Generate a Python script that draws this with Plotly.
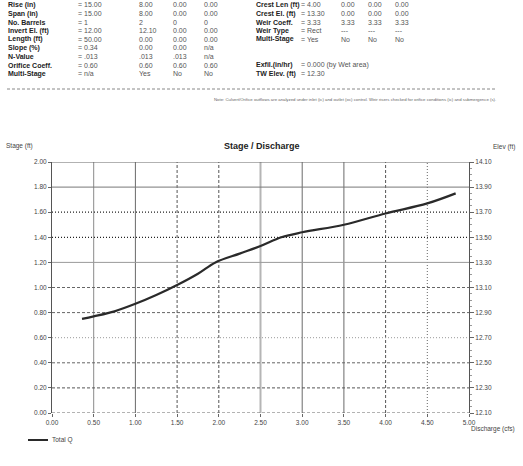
import plotly.graph_objects as go

# ---------------- data ----------------
discharge = [0.36, 0.50, 0.75, 1.00, 1.25, 1.50, 1.75, 1.96, 2.25, 2.50, 2.75, 3.00, 3.50, 4.00, 4.50, 4.84]
stage = [0.75, 0.77, 0.81, 0.87, 0.94, 1.02, 1.11, 1.20, 1.27, 1.33, 1.40, 1.44, 1.50, 1.59, 1.67, 1.75]
base_elev = 12.10
x_ticks = [0.0, 0.5, 1.0, 1.5, 2.0, 2.5, 3.0, 3.5, 4.0, 4.5, 5.0]
y_ticks = [0.0, 0.2, 0.4, 0.6, 0.8, 1.0, 1.2, 1.4, 1.6, 1.8, 2.0]
elev_ticks = [12.10, 12.30, 12.50, 12.70, 12.90, 13.10, 13.30, 13.50, 13.70, 13.90, 14.10]
series_name = "Total Q"

left_labels = ["Rise (in)", "Span (in)", "No. Barrels", "Invert El. (ft)", "Length (ft)",
               "Slope (%)", "N-Value", "Orifice Coeff.", "Multi-Stage"]
left_values = [["= 15.00", "8.00", "0.00", "0.00"],
               ["= 15.00", "8.00", "0.00", "0.00"],
               ["= 1", "2", "0", "0"],
               ["= 12.00", "12.10", "0.00", "0.00"],
               ["= 50.00", "0.00", "0.00", "0.00"],
               ["= 0.34", "0.00", "0.00", "n/a"],
               ["= .013", ".013", ".013", "n/a"],
               ["= 0.60", "0.60", "0.60", "0.60"],
               ["= n/a", "Yes", "No", "No"]]
right_labels = ["Crest Len (ft)", "Crest El. (ft)", "Weir Coeff.", "Weir Type", "Multi-Stage",
                "", "", "Exfil.(in/hr)", "TW Elev. (ft)"]
right_values = [["= 4.00", "0.00", "0.00", "0.00"],
                ["= 13.30", "0.00", "0.00", "0.00"],
                ["= 3.33", "3.33", "3.33", "3.33"],
                ["= Rect", "---", "---", "---"],
                ["= Yes", "No", "No", "No"],
                ["", "", "", ""],
                ["", "", "", ""],
                ["= 0.000 (by Wet area)", "", "", ""],
                ["= 12.30", "", "", ""]]
note_text = ("Note: Culvert/Orifice outflows are analyzed under inlet (ic) and outlet (oc) control. "
             "Weir risers checked for orifice conditions (ic) and submergence (s).")

# ---------------- geometry helpers ----------------
W, H = 523, 466
PL, PR, PT, PB = 52, 469, 162, 413

def fx(px):
    return (px - PL) / (PR - PL)

def fy(py):
    return (PB - py) / (PB - PT)

FONT = "Liberation Sans, Arial, sans-serif"
LINE_COLOR = "#2a2a2a"
fig = go.Figure()

fig.add_trace(go.Scatter(x=discharge, y=stage, mode="lines", name=series_name, showlegend=False,
                         line=dict(color=LINE_COLOR, width=2.2), line_shape="spline"))
fig.add_trace(go.Scatter(x=discharge, y=[s + base_elev for s in stage], yaxis="y2",
                         mode="lines", line=dict(width=0, color="rgba(0,0,0,0)"),
                         showlegend=False, hoverinfo="skip"))

DASH = "3px,2px"
DOT = "1px,2px"
shapes = []
v_styles = {0.5: ("solid", "#8a8a8a", 1), 1.0: ("solid", "#6a6a6a", 1), 1.5: (DASH, "#555", 1),
            2.0: (DASH, "#555", 1), 2.5: ("solid", "#b5b5b5", 2), 3.0: ("solid", "#6a6a6a", 1),
            3.5: ("solid", "#6a6a6a", 1), 4.0: (DASH, "#555", 1), 4.5: (DOT, "#666", 1)}
for xv in x_ticks[1:-1]:
    d, c, w = v_styles[xv]
    shapes.append(dict(type="line", xref="x", yref="y", x0=xv, x1=xv, y0=y_ticks[0], y1=y_ticks[-1],
                       line=dict(color=c, width=w, dash=d), layer="below"))
h_styles = {0.0: (DASH, "#666", 1), 0.2: (DASH, "#555", 1), 0.4: (DASH, "#666", 1),
            0.6: (DOT, "#999", 1), 0.8: (DASH, "#666", 1), 1.0: (DASH, "#666", 1),
            1.2: ("solid", "#9a9a9a", 1), 1.4: (DOT, "#222", 1.2), 1.6: (DOT, "#222", 1.2),
            1.8: ("solid", "#777", 1), 2.0: ("solid", "#666", 1)}
for yv in y_ticks:
    d, c, w = h_styles[yv]
    shapes.append(dict(type="line", xref="x", yref="y", x0=x_ticks[0], x1=x_ticks[-1], y0=yv, y1=yv,
                       line=dict(color=c, width=w, dash=d), layer="below"))
# separator line under header table
shapes.append(dict(type="line", xref="paper", yref="paper", x0=fx(7), x1=fx(497), y0=fy(89), y1=fy(89),
                   line=dict(color="#888", width=1, dash=DASH)))
# legend sample line
shapes.append(dict(type="line", xref="paper", yref="paper", x0=fx(28), x1=fx(48), y0=fy(440), y1=fy(440),
                   line=dict(color=LINE_COLOR, width=2)))

annotations = []
def txt(text, px, py, size=7.0, color="#333", anchor="left", bold=False):
    t = f"<b>{text}</b>" if bold else text
    annotations.append(dict(text=t, xref="paper", yref="paper", x=fx(px), y=fy(py),
                            xanchor=anchor, yanchor="middle", showarrow=False, borderpad=0,
                            font=dict(family=FONT, size=size, color=color)))

row_y0, row_dy = 5.0, 8.6
lcols = [77, 138, 172, 203]
rcols = [300, 340, 367, 394]
for i in range(len(left_labels)):
    y = row_y0 + i * row_dy
    txt(left_labels[i], 7, y, bold=True, color="#222")
    for c, v in zip(lcols, left_values[i]):
        txt(v, c, y, color="#555")
    if right_labels[i]:
        txt(right_labels[i], 255, y, bold=True, color="#222")
    for c, v in zip(rcols, right_values[i]):
        if v:
            txt(v, c, y, color="#555")
txt(note_text, 497, 99, size=4.3, color="#666", anchor="right")

# chart labels
txt("Stage / Discharge", 262, 146, size=9, color="#222", anchor="center", bold=True)
txt("Stage (ft)", 5, 146, size=6.5, color="#444")
txt("Elev (ft)", 516, 147, size=6.5, color="#444", anchor="right")
txt("Discharge (cfs)", 516, 429, size=6.5, color="#444", anchor="right")
txt(series_name, 51, 440, size=6.5, color="#444")

tickfont = dict(family=FONT, size=6.5, color="#444")
fig.update_layout(
    width=W, height=H, autosize=False,
    margin=dict(l=PL, r=W - PR, t=PT, b=H - PB, pad=0),
    paper_bgcolor="white", plot_bgcolor="white",
    shapes=shapes, annotations=annotations,
    showlegend=False,
    xaxis=dict(range=[x_ticks[0], x_ticks[-1]], tickvals=x_ticks, ticktext=[f"{v:.2f}" for v in x_ticks],
               showgrid=False, zeroline=False, showline=False, ticks="outside", ticklen=3,
               tickcolor="#666", tickfont=tickfont),
    yaxis=dict(range=[y_ticks[0], y_ticks[-1]], tickvals=y_ticks, ticktext=[f"{v:.2f}" for v in y_ticks],
               showgrid=False, zeroline=False, showline=True, linecolor="#555", linewidth=1,
               ticks="outside", ticklen=3, tickcolor="#666", tickfont=tickfont),
    yaxis2=dict(range=[elev_ticks[0], elev_ticks[-1]], tickvals=elev_ticks,
                ticktext=[f"{v:.2f}" for v in elev_ticks], overlaying="y", side="right",
                showgrid=False, zeroline=False, showline=True, linecolor="#555", linewidth=1,
                ticks="outside", ticklen=4, tickcolor="#666", tickfont=tickfont,
                minor=dict(ticks="outside", ticklen=2, dtick=0.05, tickcolor="#999")),
)

fig.write_html("out.html", config={"displayModeBar": False},
               post_script="document.body.style.margin='0';document.body.style.padding='0';document.body.style.overflow='hidden';")
